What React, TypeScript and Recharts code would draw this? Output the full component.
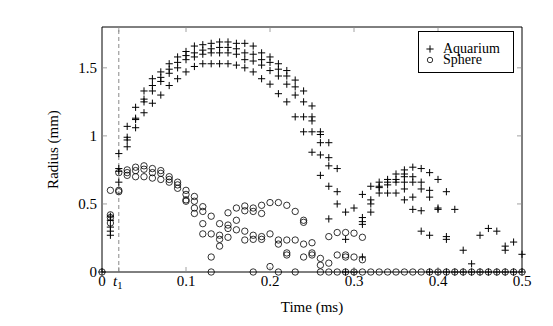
import React from "react";
import { ScatterChart, Scatter, XAxis, YAxis, ReferenceLine } from "recharts";

// time (ms) -> measured radii (mm), one entry per run visible at that instant
const aquariumCols: [number, number[]][] = [
  [0, [0]],
  [0.01, [0.41, 0.38, 0.33, 0.3, 0.27]],
  [0.02, [0.87, 0.76, 0.74, 0.66]],
  [0.03, [1.07, 0.99, 0.97, 0.92]],
  [0.04, [1.21, 1.13, 1.12, 1.06]],
  [0.05, [1.33, 1.27, 1.25, 1.17]],
  [0.06, [1.42, 1.37, 1.33, 1.24]],
  [0.07, [1.47, 1.43, 1.4, 1.3]],
  [0.08, [1.53, 1.49, 1.46, 1.37]],
  [0.09, [1.58, 1.54, 1.5, 1.42]],
  [0.1, [1.62, 1.59, 1.56, 1.47]],
  [0.11, [1.66, 1.61, 1.58, 1.51]],
  [0.12, [1.67, 1.63, 1.6, 1.53]],
  [0.13, [1.68, 1.64, 1.61, 1.53]],
  [0.14, [1.69, 1.65, 1.61, 1.53]],
  [0.15, [1.69, 1.65, 1.61, 1.53]],
  [0.16, [1.68, 1.64, 1.6, 1.52]],
  [0.17, [1.68, 1.61, 1.56, 1.5]],
  [0.18, [1.66, 1.6, 1.55, 1.47]],
  [0.19, [1.61, 1.56, 1.52, 1.42]],
  [0.2, [1.58, 1.54, 1.48, 1.38]],
  [0.21, [1.53, 1.49, 1.44, 1.31]],
  [0.22, [1.48, 1.44, 1.38, 1.25]],
  [0.23, [1.41, 1.36, 1.3, 1.14]],
  [0.24, [1.33, 1.25, 1.14, 1.03]],
  [0.25, [1.22, 1.14, 1.11, 1.03, 0.88]],
  [0.26, [1.03, 1.01, 0.95, 0.86, 0.71]],
  [0.27, [0.95, 0.84, 0.78, 0.63, 0.39]],
  [0.28, [0.76, 0.59, 0.5]],
  [0.29, [0.44, 0.24, 0]],
  [0.3, [0.47, 0]],
  [0.31, [0.57, 0.4, 0.37, 0.35, 0.11]],
  [0.32, [0.63, 0.53, 0.5, 0.44]],
  [0.33, [0.66, 0.63, 0.62, 0.58]],
  [0.34, [0.68, 0.66, 0.64, 0.58]],
  [0.35, [0.72, 0.68, 0.66, 0.58]],
  [0.36, [0.75, 0.72, 0.7, 0.66, 0.61, 0.53]],
  [0.37, [0.77, 0.7, 0.66, 0.55, 0.46]],
  [0.38, [0.76, 0.66, 0.61, 0.45, 0.3]],
  [0.39, [0.73, 0.6, 0.55, 0.27, 0]],
  [0.4, [0.68, 0.47, 0.46, 0]],
  [0.41, [0.59, 0.26, 0.24, 0]],
  [0.42, [0.46, 0]],
  [0.43, [0.16, 0]],
  [0.44, [0.06, 0]],
  [0.45, [0.27, 0]],
  [0.46, [0.32, 0]],
  [0.47, [0.3, 0]],
  [0.48, [0.19, 0.16, 0]],
  [0.49, [0.22, 0]],
  [0.5, [0.13, 0]],
];

const sphereCols: [number, number[]][] = [
  [0, [0]],
  [0.01, [0.6, 0.42, 0.4, 0.36]],
  [0.02, [0.73, 0.6, 0.59]],
  [0.03, [0.75, 0.73, 0.71]],
  [0.04, [0.77, 0.745, 0.7]],
  [0.05, [0.78, 0.755, 0.7]],
  [0.06, [0.76, 0.73, 0.69]],
  [0.07, [0.745, 0.725, 0.68]],
  [0.08, [0.7, 0.68, 0.66]],
  [0.09, [0.66, 0.64, 0.615]],
  [0.1, [0.6, 0.57, 0.53, 0.52]],
  [0.11, [0.555, 0.52, 0.47, 0.43]],
  [0.12, [0.48, 0.445, 0.355, 0.28]],
  [0.13, [0.41, 0.28, 0.11, 0]],
  [0.14, [0.355, 0.27, 0.24, 0.19]],
  [0.15, [0.435, 0.345, 0.32, 0.255]],
  [0.16, [0.47, 0.38, 0.31]],
  [0.17, [0.485, 0.45, 0.3, 0.235]],
  [0.18, [0.47, 0.445, 0.27, 0.24, 0]],
  [0.19, [0.49, 0.43, 0.26, 0.24]],
  [0.2, [0.51, 0.28, 0.04]],
  [0.21, [0.51, 0.235, 0.205, 0]],
  [0.22, [0.49, 0.235, 0.14, 0.125]],
  [0.23, [0.445, 0.235, 0]],
  [0.24, [0.38, 0.365, 0.205, 0.11]],
  [0.25, [0.215, 0.14, 0.125]],
  [0.26, [0.1, 0.05, 0]],
  [0.27, [0.26, 0.065, 0]],
  [0.28, [0.29, 0.125, 0]],
  [0.29, [0.29, 0.125, 0.11, 0]],
  [0.3, [0.285, 0.11, 0]],
  [0.31, [0.255, 0.09, 0]],
  [0.32, [0]], [0.33, [0]], [0.34, [0]], [0.35, [0]], [0.36, [0]],
  [0.37, [0]], [0.38, [0]], [0.39, [0]], [0.4, [0]], [0.41, [0]],
  [0.42, [0]], [0.43, [0]], [0.44, [0]], [0.45, [0]], [0.46, [0]],
  [0.47, [0]], [0.48, [0]], [0.49, [0]], [0.5, [0]],
];

const T1 = 0.02;
const timeTicks = [0, T1, 0.1, 0.2, 0.3, 0.4, 0.5];
const radiusTicks = [0, 0.5, 1, 1.5];
const radiusTickLabels = ["0", "0.5", "1", "1.5"];

const FONT = "'Liberation Serif', 'Times New Roman', serif";
const FS = 15;
const W = 537;
const H = 310;
const M = { top: 19, right: 23, bottom: 0, left: 0 };
const Y_AXIS_W = 94;
const X_AXIS_H = 46;
const PLOT_W = W - M.left - M.right - Y_AXIS_W;
const PLOT_H = H - M.top - M.bottom - X_AXIS_H;
const TICK = 5;
const TICK_COLOR = "#8a8a8a";

const flatten = (cols: [number, number[]][]) =>
  cols.flatMap(([t, rs]) => rs.map((r) => ({ t, r })));

const aquariumData = flatten(aquariumCols);
const sphereData = flatten(sphereCols);

const PlusMark = (p: any) => {
  const { cx, cy } = p;
  if (cx == null || cy == null) return null;
  const s = 3.6;
  return (
    <path
      d={`M${cx - s},${cy}H${cx + s}M${cx},${cy - s}V${cy + s}`}
      stroke="#000"
      strokeWidth={1}
      fill="none"
    />
  );
};

const CircleMark = (p: any) => {
  const { cx, cy } = p;
  if (cx == null || cy == null) return null;
  return <circle cx={cx} cy={cy} r={3.2} fill="none" stroke="#000" strokeWidth={0.8} />;
};

const XTick = (p: any) => {
  const { x, y, payload } = p;
  const v = payload.value;
  const edge = v === 0 || v === 0.5;
  return (
    <g>
      {!edge && (
        <>
          <line x1={x} y1={y} x2={x} y2={y - TICK} stroke={TICK_COLOR} strokeWidth={0.8} />
          <line x1={x} y1={y - PLOT_H} x2={x} y2={y - PLOT_H + TICK} stroke={TICK_COLOR} strokeWidth={0.8} />
        </>
      )}
      {v === T1 ? (
        <text x={x - 1} y={y + 14} textAnchor="middle" fontFamily={FONT} fontSize={FS} fill="#000">
          <tspan fontStyle="italic">t</tspan>
          <tspan fontSize={10.5} dy={3}>1</tspan>
        </text>
      ) : (
        <text x={x} y={y + 14} textAnchor="middle" fontFamily={FONT} fontSize={FS} fill="#000">
          {String(v)}
        </text>
      )}
    </g>
  );
};

const YTick = (p: any) => {
  const { x, y, payload, index } = p;
  const v = payload.value;
  return (
    <g>
      {v !== 0 && (
        <>
          <line x1={x} y1={y} x2={x + TICK} y2={y} stroke={TICK_COLOR} strokeWidth={0.8} />
          <line x1={x + PLOT_W} y1={y} x2={x + PLOT_W - TICK} y2={y} stroke={TICK_COLOR} strokeWidth={0.8} />
        </>
      )}
      <text x={x - 5} y={y} dy="0.34em" textAnchor="end" fontFamily={FONT} fontSize={FS} fill="#000">
        {radiusTickLabels[index] ?? String(v)}
      </text>
    </g>
  );
};

const legendItems = [
  { name: "Aquarium", mark: "plus" },
  { name: "Sphere", mark: "circle" },
];

function LegendBox() {
  return (
    <div
      style={{
        position: "absolute",
        left: 410,
        top: 23,
        width: 96,
        height: 42,
        border: "1px solid #000",
        background: "#fff",
        fontFamily: FONT,
        fontSize: 14,
        lineHeight: "11px",
        boxSizing: "border-box",
        paddingTop: 11,
      }}
    >
      {legendItems.map((it) => (
        <div key={it.name} style={{ display: "flex", alignItems: "flex-start", height: 11 }}>
          <svg width={24} height={11} style={{ flex: "none", overflow: "visible" }}>
            {it.mark === "plus" ? (
              <path d="M7.4,6H14.6M11,2.4V9.6" stroke="#000" strokeWidth={1} fill="none" />
            ) : (
              <circle cx={11} cy={6} r={2.7} fill="none" stroke="#000" strokeWidth={0.8} />
            )}
          </svg>
          <span>{it.name}</span>
        </div>
      ))}
    </div>
  );
}

export default function App() {
  return (
    <div style={{ position: "relative", width: W, height: H }}>
      <ScatterChart width={W} height={H} margin={M} style={{ fontFamily: FONT }}>
        <XAxis
          type="number"
          dataKey="t"
          domain={[0, 0.5]}
          ticks={timeTicks}
          interval={0}
          height={X_AXIS_H}
          tickSize={0}
          tickMargin={0}
          tickLine={false}
          axisLine={{ stroke: "#000", strokeWidth: 1 }}
          tick={<XTick />}
          label={{ value: "Time (ms)", position: "insideBottom", offset: 6, fontFamily: FONT, fontSize: FS, fill: "#000" }}
        />
        <YAxis
          type="number"
          dataKey="r"
          domain={[0, 1.8]}
          ticks={radiusTicks}
          interval={0}
          width={Y_AXIS_W}
          tickSize={0}
          tickMargin={0}
          tickLine={false}
          axisLine={{ stroke: "#000", strokeWidth: 1 }}
          tick={<YTick />}
          label={{
            value: "Radius (mm)",
            angle: -90,
            position: "insideLeft",
            offset: 45,
            fontFamily: FONT,
            fontSize: FS,
            fill: "#000",
            style: { textAnchor: "middle" },
          }}
        />
        <ReferenceLine y={1.8} stroke="#000" strokeWidth={1} />
        <ReferenceLine x={0.5} stroke="#000" strokeWidth={1} />
        <ReferenceLine x={T1} stroke="#7a7a7a" strokeWidth={0.9} strokeDasharray="4 3" />
        <Scatter name="Sphere" data={sphereData} shape={<CircleMark />} isAnimationActive={false} />
        <Scatter name="Aquarium" data={aquariumData} shape={<PlusMark />} isAnimationActive={false} />
      </ScatterChart>
      <LegendBox />
    </div>
  );
}
